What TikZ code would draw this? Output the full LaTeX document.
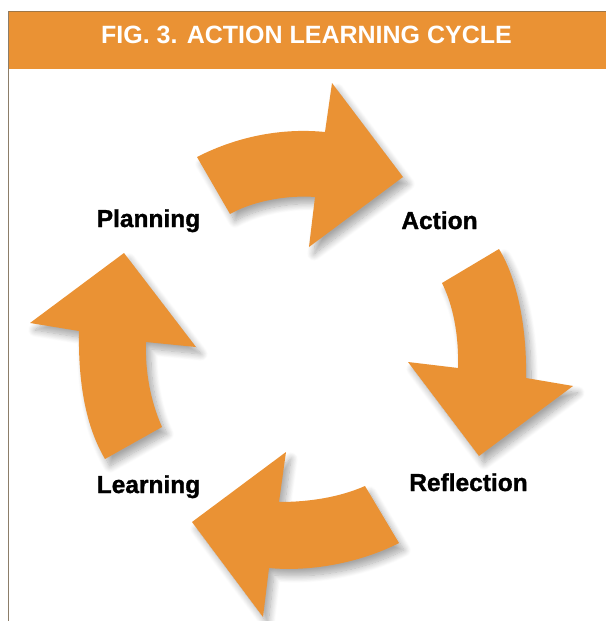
\documentclass[tikz,border=0pt]{standalone}
\usepackage{fontspec}
\setmainfont{Liberation Sans}
\newfontfamily\heavyfont[FakeBold=1.3]{Liberation Sans Bold}
\usetikzlibrary{shadows.blur}
\definecolor{cycorange}{RGB}{234,146,52}
\definecolor{topline}{RGB}{160,118,68}
\definecolor{sideline}{RGB}{140,125,105}
\begin{document}
\begin{tikzpicture}[x=1pt,y=-1pt,
  cyclearrow/.style={fill=cycorange, draw=none,
    blur shadow={shadow xshift=5pt, shadow yshift=-7pt, shadow blur steps=12, shadow blur radius=7pt, shadow opacity=35}},
  steplabel/.style={anchor=base, inner sep=0pt, font=\heavyfont\fontsize{24.5}{29}\selectfont, text=black},
  headtext/.style={anchor=base, inner sep=0pt, font=\bfseries\fontsize{25}{30}\selectfont, text=white}]
\useasboundingbox (0,0) rectangle (606,621);
% frame and header
\fill[cycorange] (8,12) rectangle (606,69);
\draw[topline, line width=1.5pt] (8,11.5) -- (606,11.5);
\draw[sideline, line width=1.5pt] (8.5,11) -- (8.5,621);
\node[headtext] (title) at (306.5,43) {FIG. 3. ACTION LEARNING CYCLE};
% arrows
\path[cyclearrow] (197,157) .. controls (240,135) and (285,128) .. (325,132)
  -- (332,83) -- (403,177) -- (309,247) -- (315,197)
  .. controls (290,195) and (255,200) .. (230,214) -- cycle;
\path[cyclearrow] (499,249) .. controls (518,280) and (527,330) .. (526,378)
  -- (573,386) -- (479,456) -- (408,362) -- (458,368)
  .. controls (459,335) and (453,305) .. (442,283) -- cycle;
\path[cyclearrow] (365,486) -- (399,543) .. controls (360,563) and (310,572) .. (269,568)
  -- (263,617) -- (192,522) -- (286,452) -- (279,502)
  .. controls (310,502) and (340,497) .. (365,486) -- cycle;
\path[cyclearrow] (124,253) -- (196,347) -- (146,342)
  .. controls (145,370) and (150,400) .. (162,427) -- (105,459)
  .. controls (88,430) and (78,390) .. (79,331) -- (30,323) -- cycle;
% labels
\node[steplabel] (planning) at (148.5,227) {Planning};
\node[steplabel] (action) at (439.5,229) {Action};
\node[steplabel] (reflection) at (468.5,491) {Reflection};
\node[steplabel] (learning) at (148.5,493) {Learning};
\end{tikzpicture}
\end{document}
